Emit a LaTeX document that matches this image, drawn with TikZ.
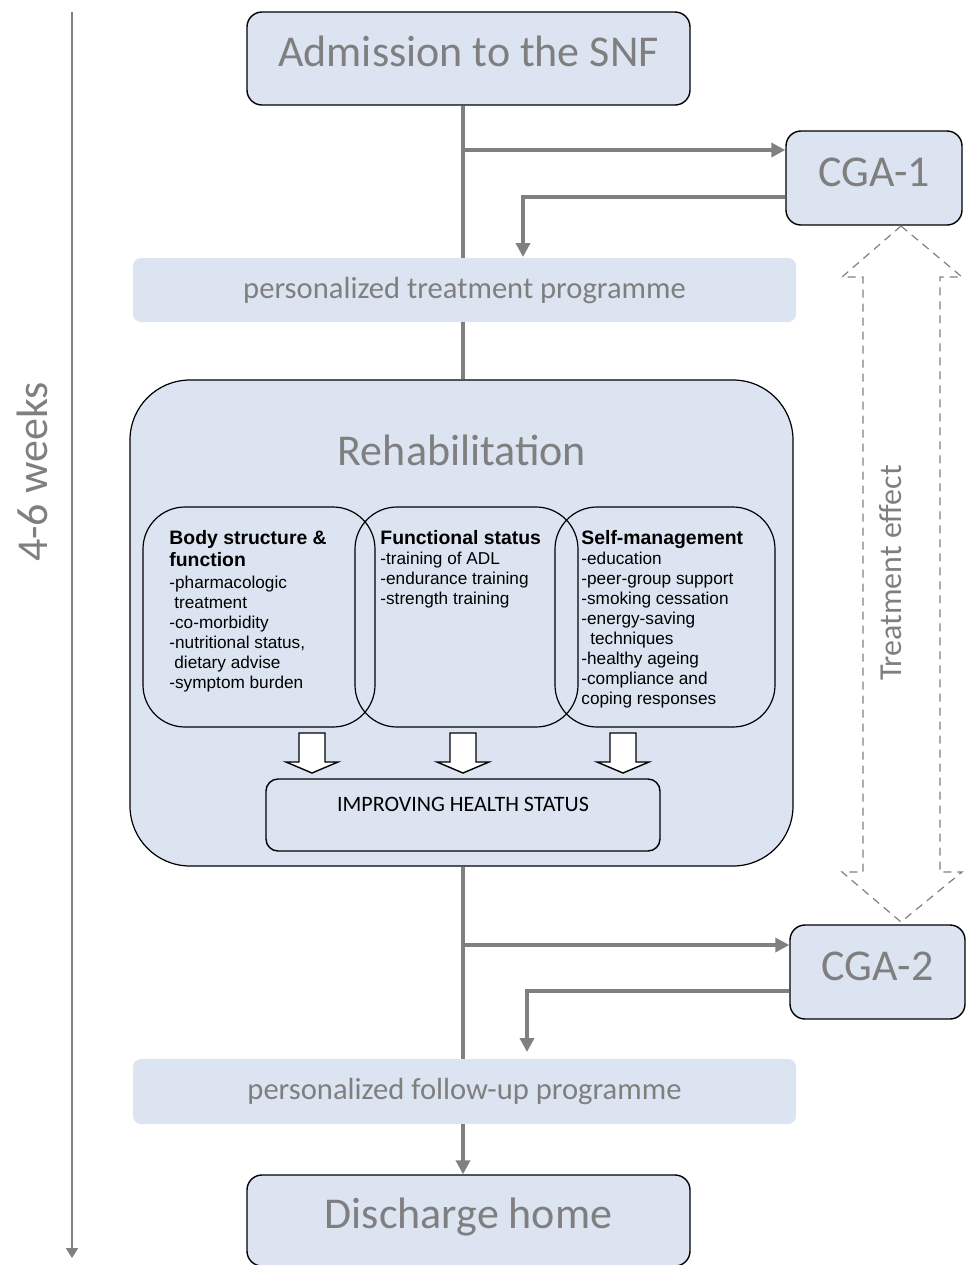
\documentclass[tikz,border=0pt]{standalone}
\usepackage{fontspec}
\setmainfont{Carlito}
\newfontfamily\arialfont{Liberation Sans}
\usetikzlibrary{arrows.meta}
\definecolor{boxblue}{RGB}{219,228,240}
\definecolor{txtgray}{RGB}{127,127,127}
\definecolor{lngray}{RGB}{128,128,128}

\begin{document}
\begin{tikzpicture}[x=0.5pt,y=-0.5pt,
  stage/.style={draw=black,line width=0.7pt,fill=boxblue,rounded corners=7.5pt,
    text=txtgray,font=\fontsize{22}{26}\selectfont,text height=14pt,text depth=6pt,inner sep=0pt},
  band/.style={fill=boxblue,rounded corners=4pt,minimum width=331.5pt,inner sep=0pt,
    text=txtgray,font=\fontsize{15.3}{18}\selectfont},
  flow/.style={draw=lngray,line width=2pt},
  flowarr/.style={flow,-{Triangle[length=7pt,width=7pt]}},
  area/.style={draw=black,line width=0.6pt,rounded corners=21pt,minimum height=110pt,inner sep=0pt},
  item/.style={anchor=north west,align=left,inner sep=0pt,font=\arialfont\fontsize{8.6}{10}\selectfont},
  blockarr/.style={draw=black,fill=white,line width=0.7pt},
  effectarr/.style={draw=lngray,line width=0.6pt,dash pattern=on 4pt off 3pt},
]
\useasboundingbox (0,0) rectangle (965,1265);

% time axis
\coordinate (t0) at (72,12);
\coordinate (t1) at (72,1258);
\draw[lngray,line width=1pt,-{Triangle[length=5pt,width=6pt]}] (t0) -- (t1);
\node[rotate=90,text=txtgray,font=\fontsize{22}{26}\selectfont] (weeks) at (32,472) {4-6 weeks};

% stages
\node[stage,minimum width=221.5pt,minimum height=46.5pt] (adm) at (468.5,58.5) {Admission to the SNF};
\node[stage,minimum width=88pt,minimum height=47pt] (cga1) at (874,178) {CGA-1};
\node[band,minimum height=32pt] (ptp) at (464.5,290) {personalized treatment programme};
\node[stage,minimum width=87.5pt,minimum height=47pt] (cga2) at (877.5,972) {CGA-2};
\node[band,minimum height=32.5pt] (pfp) at (464.5,1091.5) {personalized follow-up programme};
\node[stage,minimum width=221.5pt,minimum height=45.5pt] (dis) at (468.5,1220.5) {Discharge home};

% rehabilitation
\node[draw=black,line width=0.6pt,fill=boxblue,rounded corners=30pt,
  minimum width=331.5pt,minimum height=243pt] (rehab) at (461.5,623) {};
\node[text=txtgray,font=\fontsize{22}{26}\selectfont] (rehabt) at (462,450) {Rehabilitation};

\node[area,minimum width=116pt] (body) at (259,617) {};
\node[area,minimum width=111.5pt] (func) at (466.5,617) {};
\node[area,minimum width=110pt] (self) at (665,617) {};

\node[item] (bodyi) at (169,530) {\textbf{\fontsize{9.7}{11}\selectfont Body structure \&}\\[1pt]
  \textbf{\fontsize{9.7}{11}\selectfont function}\\[1pt]
  -pharmacologic\\ \hspace{2.5pt}treatment\\ -co-morbidity\\ -nutritional status,\\
  \hspace{2.5pt}dietary advise\\ -symptom burden};
\node[item] (funci) at (380,530) {\textbf{\fontsize{9.7}{11}\selectfont Functional status}\\
  -training of ADL\\ -endurance training\\ -strength training};
\node[item] (selfi) at (581,530) {\textbf{\fontsize{9.7}{11}\selectfont Self-management}\\
  -education\\ -peer-group support\\ -smoking cessation\\ -energy-saving\\
  \hspace{4.5pt}techniques\\ -healthy ageing\\ -compliance and\\ coping responses};

\foreach \bx in {312,463,623}
  \draw[blockarr] (\bx,733) ++(-13,0) -- ++(26,0) -- ++(0,29) -- ++(13,0)
    -- ++(-26,11) -- ++(-26,-11) -- ++(13,0) -- cycle;

\node[draw=black,line width=0.7pt,rounded corners=6pt,minimum width=197pt,minimum height=36pt,
  inner sep=0pt,font=\fontsize{11}{13}\selectfont,text height=7pt,text depth=11pt] (health) at (463,815)
  {IMPROVING HEALTH STATUS};

% flow
\coordinate (sp) at (463,0);
\draw[flow] (adm.south -| sp) -- (ptp.north -| sp);
\draw[flowarr] (463,150) -- (cga1.west |- 0,150);
\draw[flowarr] (cga1.west |- 0,197) -| (523,257);
\draw[flow] (ptp.south -| sp) -- (rehab.north -| sp);
\draw[flow] (rehab.south -| sp) -- (pfp.north -| sp);
\draw[flowarr] (463,945) -- (cga2.west |- 0,945);
\draw[flowarr] (cga2.west |- 0,991) -| (527,1052);
\draw[flowarr] (pfp.south -| sp) -- (dis.north -| sp);

% treatment effect
\draw[effectarr] (901,226) -- (962,277) -- (940,277) -- (940,872) -- (962,872) -- (901,922)
  -- (842,872) -- (863,872) -- (863,277) -- (842,277) -- cycle;
\node[rotate=90,text=txtgray,font=\fontsize{16}{19}\selectfont] (effect) at (891,573) {Treatment effect};
\end{tikzpicture}
\end{document}
